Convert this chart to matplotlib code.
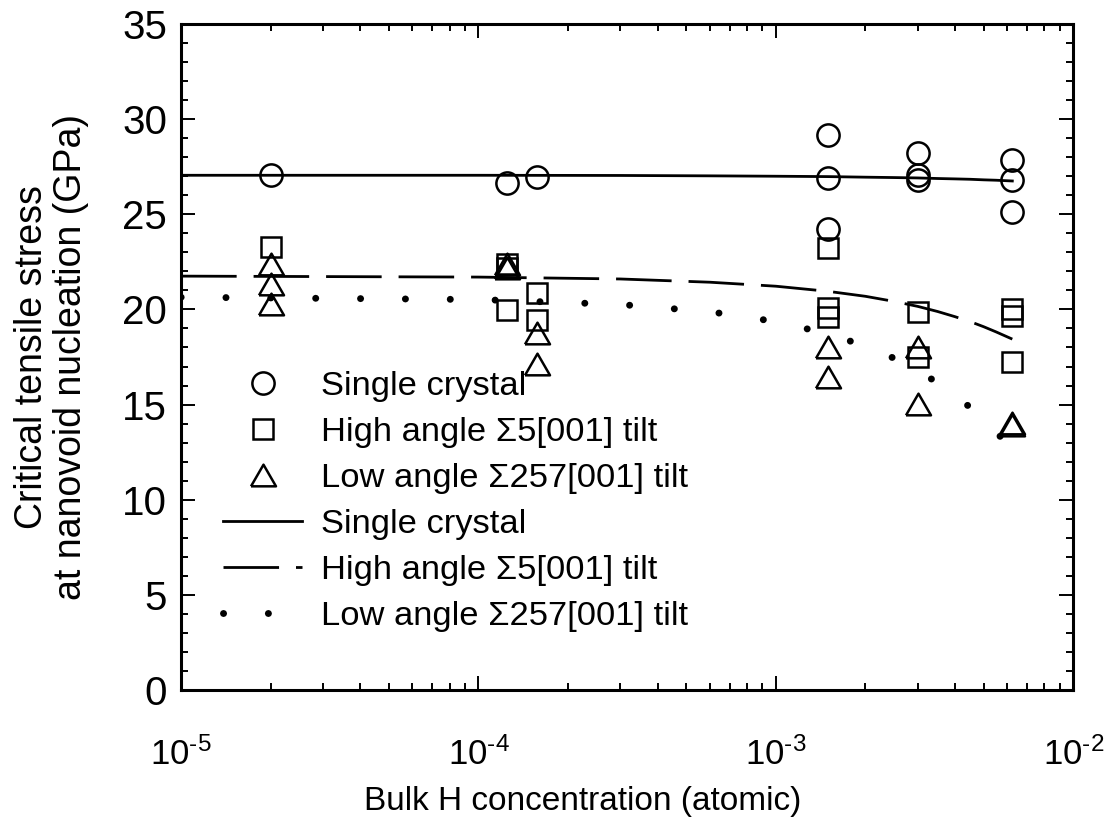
import numpy as np
import matplotlib
matplotlib.use('Agg')
import matplotlib.pyplot as plt
from matplotlib.ticker import LogLocator, MultipleLocator, NullFormatter, FuncFormatter

plt.rcParams['font.family'] = 'Liberation Sans'
plt.rcParams['mathtext.fontset'] = 'custom'
plt.rcParams['mathtext.rm'] = 'Liberation Sans'
plt.rcParams['mathtext.default'] = 'regular'

# Bulk H concentrations of the simulations
conc = [2e-5, 1.25e-4, 1.57e-4, 1.5e-3, 3e-3, 6.24e-3]

# critical stress values (GPa) at each concentration
single = [[27.05], [26.65], [26.95], [29.15, 26.9, 24.25], [28.2, 27.05, 26.8], [27.85, 26.8, 25.1]]
high = [[23.3], [22.4, 22.2, 19.95], [20.85, 19.45], [23.25, 20.05, 19.6], [19.85, 17.5], [20.0, 19.65, 17.25]]
low = [[22.4, 21.35, 20.3], [22.4, 22.2], [18.75, 17.15], [18.0, 16.45], [18.0, 15.05], [14.05, 13.95]]

# model curves
c_fit = [1e-5, 1e-4, 3e-4, 6e-4, 1e-3, 1.5e-3, 2e-3, 2.5e-3, 3e-3, 3.5e-3, 4e-3, 4.5e-3, 5e-3, 5.5e-3, 6.24e-3]
fit_single = [27.05, 27.05, 27.04, 27.02, 27.0, 26.98, 26.95, 26.93, 26.91, 26.88, 26.86, 26.84, 26.81, 26.79, 26.75]
fit_high = [21.75, 21.70, 21.60, 21.43, 21.22, 20.95, 20.69, 20.42, 20.16, 19.89, 19.62, 19.36, 19.09, 18.82, 18.44]
fit_low = [20.64, 20.52, 20.26, 19.88, 19.36, 18.72, 18.07, 17.43, 16.79, 16.14, 15.5, 14.85, 14.21, 13.57, 12.61]


def flat(groups):
    xs, ys = [], []
    for c, vals in zip(conc, groups):
        xs += [c] * len(vals)
        ys += vals
    return xs, ys


def decade(v, pos):
    return r'$10^{\text{-}%d}$' % round(-np.log10(v))


tri = [(-1, -0.866), (1, -0.866), (0, 0.866), (-1, -0.866)]

fig = plt.figure(figsize=(11.11, 8.22), dpi=100)
ax = fig.add_axes([0.163, 0.1606, 0.803, 0.8102])

mk = dict(linestyle='none', markerfacecolor='none', markeredgecolor='black', markeredgewidth=1.8)
x, y = flat(single)
ax.plot(x, y, marker='o', markersize=16, label='Single crystal', **mk)
x, y = flat(high)
ax.plot(x, y, marker='s', markersize=15, label='High angle Σ5[001] tilt', **mk)
x, y = flat(low)
ax.plot(x, y, marker=tri, markersize=18, label='Low angle Σ257[001] tilt', **mk)

ax.plot(c_fit, fit_single, color='black', lw=2.0, label='Single crystal')
ax.plot(c_fit, fit_high, color='black', lw=2.0, linestyle=(0, (20, 6.1)), label='High angle Σ5[001] tilt')
ax.plot(c_fit, fit_low, color='black', lw=5.0, linestyle=(0, (0.01, 6.45)),
        dash_capstyle='round', label='Low angle Σ257[001] tilt')

ax.set_xscale('log')
ax.set_xlim(1e-5, 1e-2)
ax.set_ylim(0, 35)
ax.xaxis.set_major_locator(LogLocator(base=10, numticks=10))
ax.xaxis.set_major_formatter(FuncFormatter(decade))
ax.xaxis.set_minor_locator(LogLocator(base=10, subs=np.arange(2, 10), numticks=10))
ax.xaxis.set_minor_formatter(NullFormatter())
ax.yaxis.set_major_locator(MultipleLocator(5))
ax.yaxis.set_minor_locator(MultipleLocator(1))

for s in ax.spines.values():
    s.set_linewidth(2.2)
ax.tick_params(which='both', direction='in', top=True, right=True, width=1.4)
ax.tick_params(which='major', length=10)
ax.tick_params(which='minor', length=5)
ax.tick_params(axis='y', labelsize=29, pad=10)
ax.tick_params(axis='x', labelsize=25, pad=34)

ax.set_xlabel('Bulk H concentration (atomic)', fontsize=24, labelpad=10, x=0.45)
ax.set_ylabel('Critical tensile stress\nat nanovoid nucleation (GPa)', fontsize=27,
              labelpad=24, linespacing=1.12)

ax.legend(loc='upper left', bbox_to_anchor=(0.047, 0.479), frameon=False, fontsize=24.8,
          numpoints=1, handlelength=2.3, handletextpad=0.55, labelspacing=0.43,
          borderpad=0, borderaxespad=0)

fig.savefig('out.png', dpi=100)
